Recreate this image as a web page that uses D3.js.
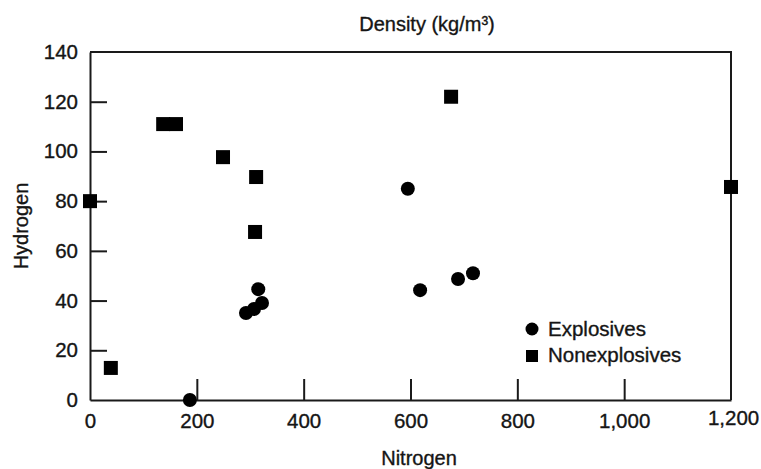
<!DOCTYPE html>
<html>
<head>
<meta charset="utf-8">
<script src="https://cdnjs.cloudflare.com/ajax/libs/d3/7.8.5/d3.min.js"></script>
<style>
    body { margin: 0; background: #fff; }
    text { font-family: "Liberation Sans", Arial, sans-serif; fill: #151515; stroke: #151515; stroke-width: 0.35px; }
    .axis path, .axis line { stroke: #1a1a1a; stroke-width: 2; }
    .axis text { font-size: 20.5px; }
</style>
</head>
<body>
<div id="graph"></div>
<script>
/*
    Data
*/
var explosivesN = [595, 187, 292, 307, 322, 315, 618, 689, 717],
    explosivesH = [85, 0, 35, 36.6, 39, 44.6, 44.2, 48.7, 51]

var nonexplosivesN = [0, 137, 161, 249, 311, 309, 39, 676, 1200],
    nonexplosivesH = [80, 111, 111, 97.7, 89.7, 67.6, 12.9, 122, 85.7]

var xTicks = [0, 200, 400, 600, 800, 1000, 1200],
    xTickLabels = ["0", "200", "400", "600", "800", "1,000", "1,200"],
    yTicks = [0, 20, 40, 60, 80, 100, 120, 140]

var legendLabels = ["Explosives", "Nonexplosives"]

/*
    Set the dimensions
*/
var width = 761,
    height = 469

var svg = d3.select("#graph").append("svg")
            .attr("width", width)
            .attr("height", height)

var x = d3.scaleLinear()
          .domain([0, 1200])
          .range([90, 731]),
    y = d3.scaleLinear()
          .domain([0, 140])
          .range([400, 52])

/*
    Frame (top and right)
*/
svg.append("path")
    .attr("d", "M" + x(0) + "," + y(140) + "H" + x(1200) + "V" + y(0))
    .attr("fill", "none")
    .attr("stroke", "#1a1a1a")
    .attr("stroke-width", 2)

/*
    Axes, ticks point inward
*/
var xAxis = svg.append("g")
    .attr("class", "axis")
    .attr("transform", "translate(0," + y(0) + ")")
    .call(d3.axisBottom(x)
            .tickValues(xTicks)
            .tickSizeInner(-21)
            .tickSizeOuter(0)
            .tickPadding(11)
            .tickFormat(function(d, i) { return xTickLabels[i] }))

var yAxis = svg.append("g")
    .attr("class", "axis")
    .attr("transform", "translate(" + x(0) + ",0)")
    .call(d3.axisLeft(y)
            .tickValues(yTicks)
            .tickSizeInner(-17)
            .tickSizeOuter(0)
            .tickPadding(12))

// no tick marks on the ends
xAxis.selectAll(".tick line")
    .filter(function(d) { return d == 0 || d == 1200 })
    .remove()
yAxis.selectAll(".tick line")
    .filter(function(d) { return d == 0 || d == 140 })
    .remove()

xAxis.selectAll(".tick text").attr("dy", "0.85em")
xAxis.selectAll(".tick")
    .filter(function(d) { return d == 1200 })
    .select("text")
    .attr("dx", "0.1em")
    .attr("dy", "0.7em")

/*
    Titles
*/
svg.append("text")
    .attr("x", 427)
    .attr("y", 31)
    .attr("text-anchor", "middle")
    .style("font-size", "20px")
    .text("Density (kg/m³)")

svg.append("text")
    .attr("x", 419)
    .attr("y", 465)
    .attr("text-anchor", "middle")
    .style("font-size", "20px")
    .text("Nitrogen")

svg.append("text")
    .attr("transform", "translate(28,226) rotate(-90)")
    .attr("text-anchor", "middle")
    .style("font-size", "20px")
    .text("Hydrogen")

/*
    Points
*/
var size = 14

svg.selectAll("rect.nonexp")
    .data(nonexplosivesN)
    .enter().append("rect")
    .attr("class", "nonexp")
    .attr("x", function(d) { return x(d) - size / 2 })
    .attr("y", function(d, i) { return y(nonexplosivesH[i]) - size / 2 })
    .attr("width", size)
    .attr("height", size)
    .attr("fill", "#000")

svg.selectAll("circle.exp")
    .data(explosivesN)
    .enter().append("circle")
    .attr("class", "exp")
    .attr("cx", function(d) { return x(d) })
    .attr("cy", function(d, i) { return y(explosivesH[i]) })
    .attr("r", size / 2)
    .attr("fill", "#000")

/*
    Legend
*/
var legend = svg.append("g")
    .attr("transform", "translate(532,329)")

legend.append("circle")
    .attr("r", 6.5)
    .attr("fill", "#000")

legend.append("rect")
    .attr("x", -6)
    .attr("y", 21)
    .attr("width", 12)
    .attr("height", 12)
    .attr("fill", "#000")

legend.selectAll("text")
    .data(legendLabels)
    .enter().append("text")
    .attr("x", 16)
    .attr("y", function(d, i) { return 7 + i * 26 })
    .style("font-size", "20.5px")
    .text(function(d) { return d })
</script>
</body>
</html>
